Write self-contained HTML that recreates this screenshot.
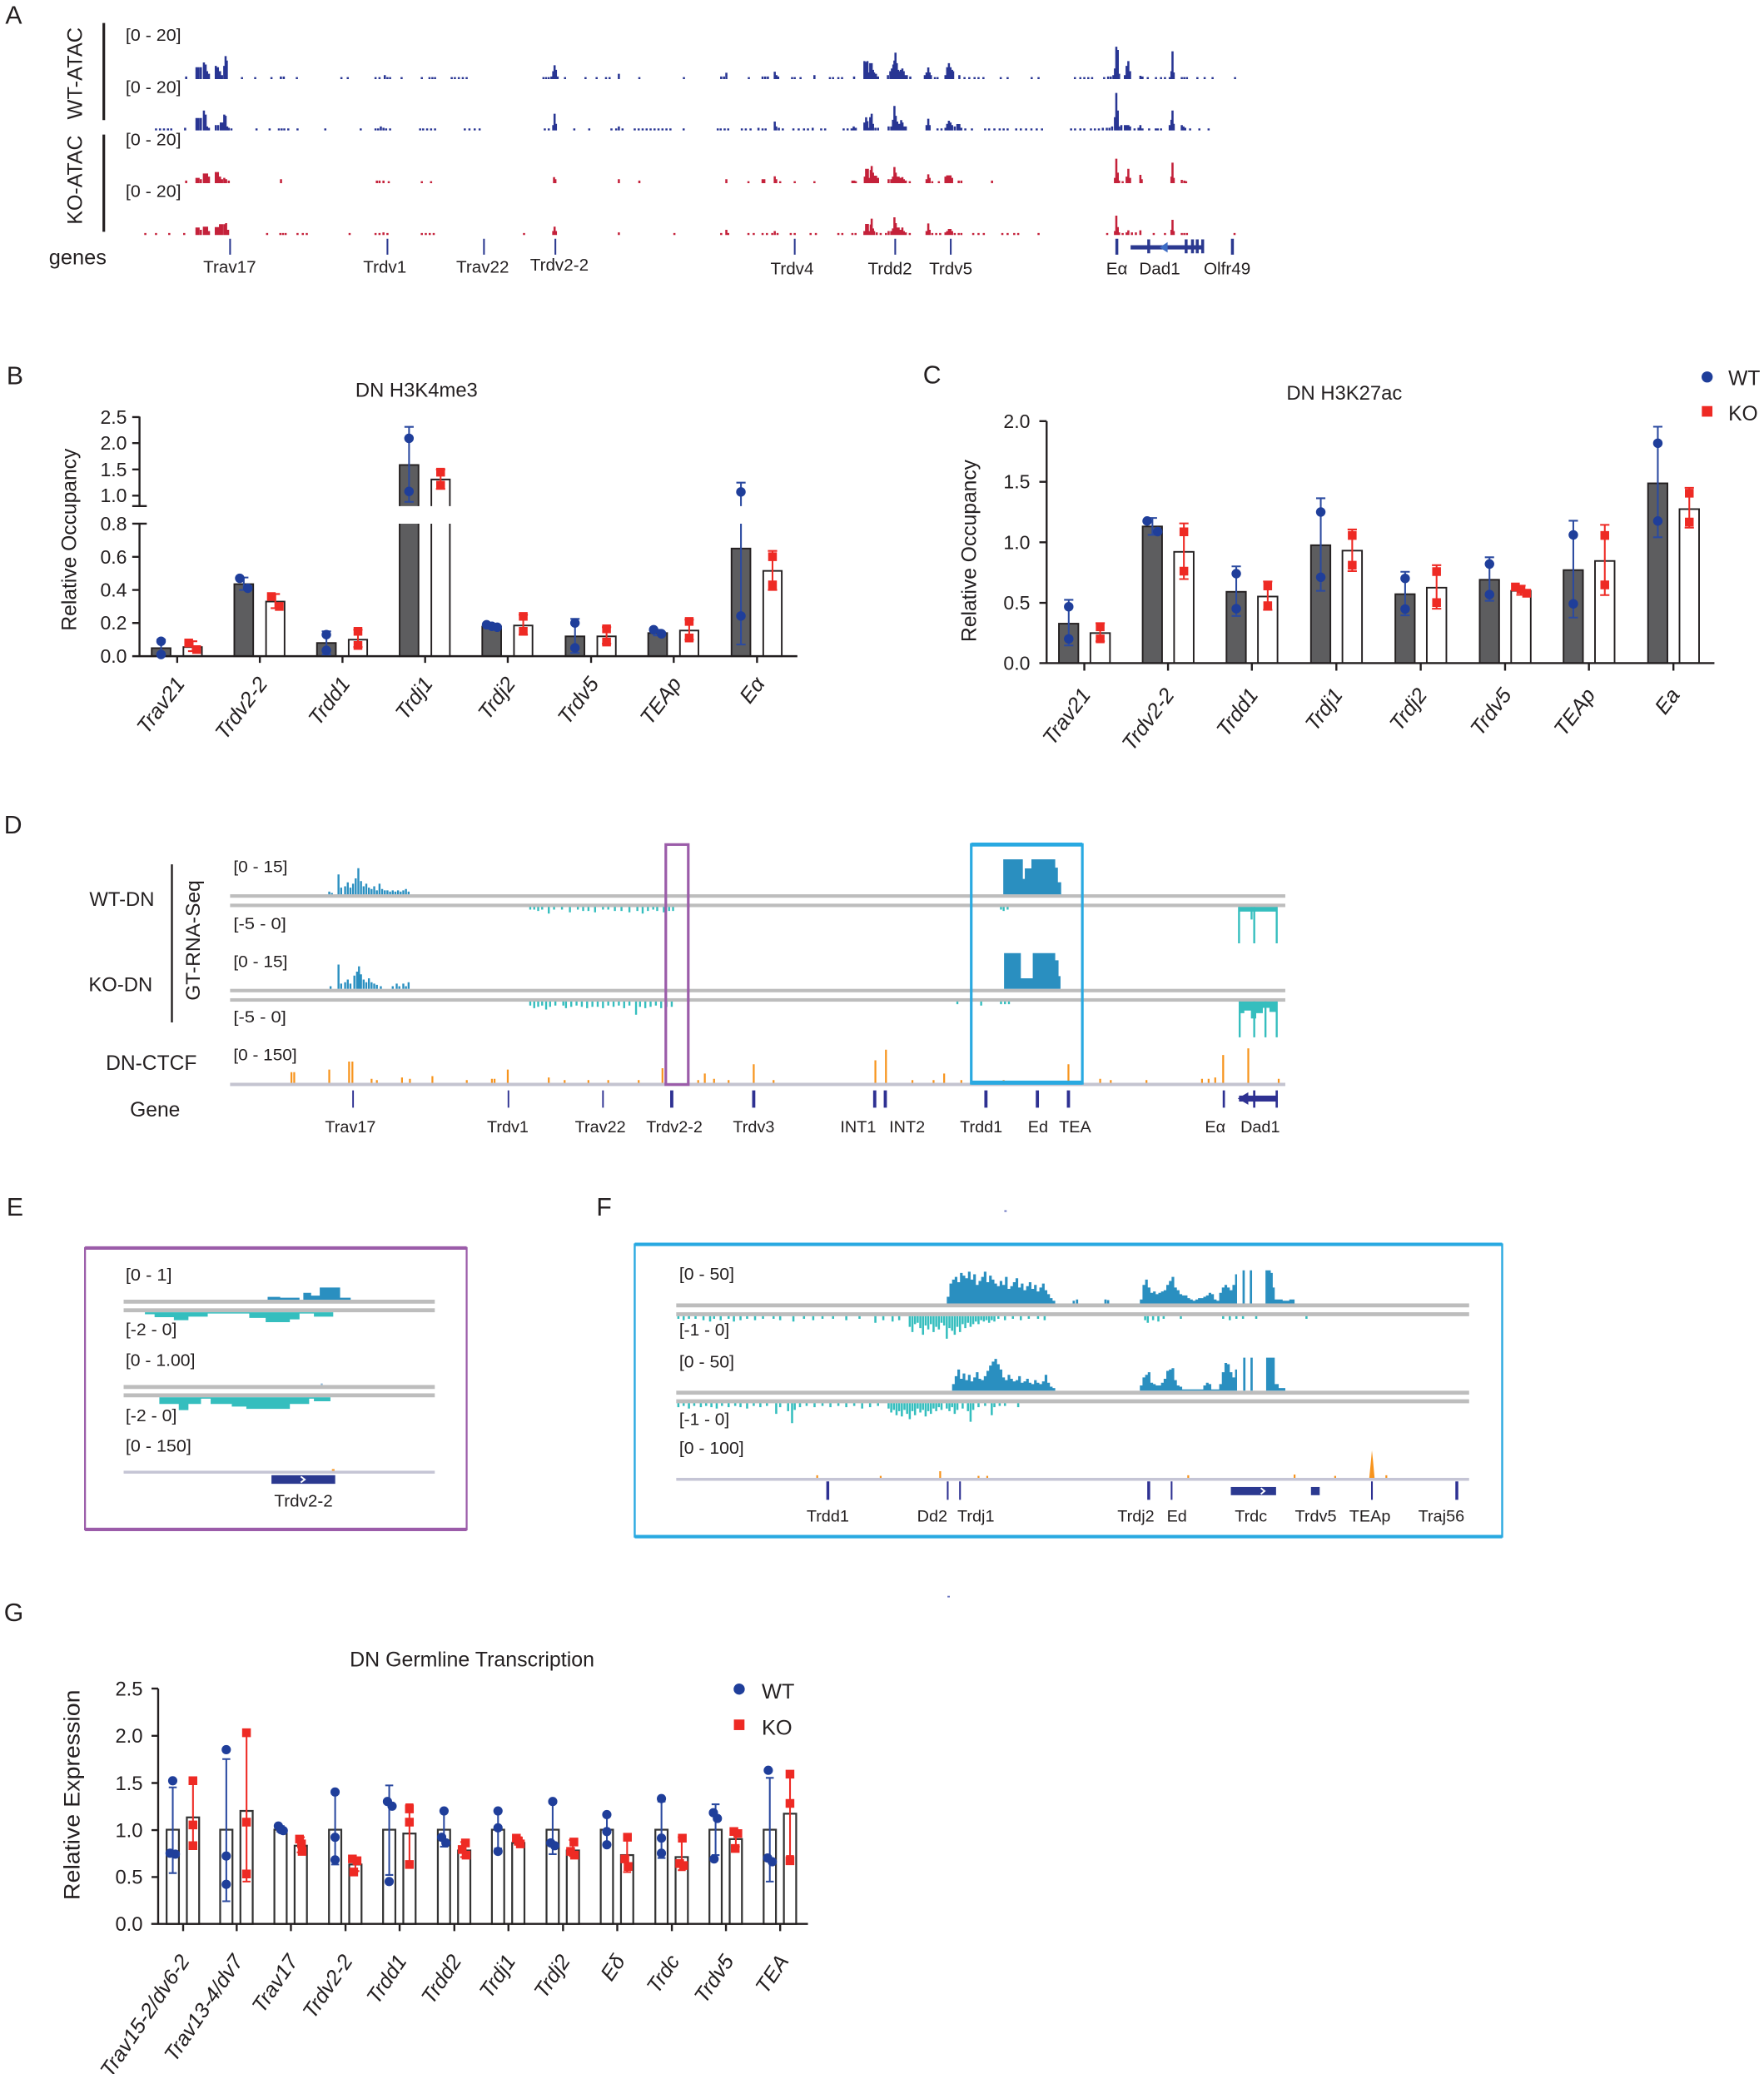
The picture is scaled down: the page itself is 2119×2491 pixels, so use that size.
<!DOCTYPE html>
<html><head><meta charset="utf-8">
<style>
html,body{margin:0;padding:0;background:#fff;}
svg{display:block;}
text{font-family:"Liberation Sans",Arial,sans-serif;fill:#231f20;}
.it{font-style:italic;}
</style></head><body>
<svg width="2119" height="2491" viewBox="0 0 1334 1568" preserveAspectRatio="none" xmlns="http://www.w3.org/2000/svg">
<rect x="0" y="0" width="1334" height="1568" fill="#fff"/>

<!-- ================= PANEL A ================= -->
<text x="4" y="18" font-size="19">A</text>
<text transform="translate(62,55.5) rotate(-90)" text-anchor="middle" font-size="16">WT-ATAC</text>
<text transform="translate(62,136) rotate(-90)" text-anchor="middle" font-size="15.7">KO-ATAC</text>
<path d="M78.5 17.4V90.8M78.5 101.7V175.2" stroke="#231f20" stroke-width="2"/>
<g font-size="13">
<text x="95" y="30.8" textLength="42" lengthAdjust="spacingAndGlyphs">[0 - 20]</text>
<text x="95" y="70.2" textLength="42" lengthAdjust="spacingAndGlyphs">[0 - 20]</text>
<text x="95" y="109.8" textLength="42" lengthAdjust="spacingAndGlyphs">[0 - 20]</text>
<text x="95" y="148.8" textLength="42" lengthAdjust="spacingAndGlyphs">[0 - 20]</text>
</g>
<path stroke="#283593" stroke-width="1.6" fill="none" d="M140.8 59.8v-2M148.6 59.8v-9M150.2 59.8v-9M151.9 59.8v-9M154.2 59.8v-12.6M155.5 59.8v-11M156.6 59.8v-6M158 59.8v-4M163.2 59.8v-10M164.8 59.8v-9M166.4 59.8v-6M167.9 59.8v-3M169.6 59.8v-10M170.6 59.8v-17.4M171.5 59.8v-14M183 59.8v-1.5M193 59.8v-1.5M205.3 59.8v-1.5M212.4 59.8v-2M214.6 59.8v-2M224.5 59.8v-1.5M258.2 59.8v-1.5M263 59.8v-1.5M284 59.8v-1.5M287 59.8v-1.5M291 59.8v-3M293 59.8v-1.5M295 59.8v-1.5M303.7 59.8v-1.5M319 59.8v-1.5M324.8 59.8v-1.5M327 59.8v-1.5M329 59.8v-1.5M341.6 59.8v-1.5M344 59.8v-1.5M347 59.8v-1.5M350 59.8v-1.5M352.9 59.8v-1.5M411 59.8v-1.5M413 59.8v-1.5M415 59.8v-1.5M417 59.8v-2M418.4 59.8v-6M419.4 59.8v-10.5M420.4 59.8v-7M421.7 59.8v-2M427.3 59.8v-1.5M442.8 59.8v-1.5M451.2 59.8v-1.5M458.3 59.8v-1.5M461 59.8v-1.5M468 59.8v-4M483.5 59.8v-1.5M517.2 59.8v-1.5M545.4 59.8v-2M547.5 59.8v-2M549.3 59.8v-4.8M566.3 59.8v-1.5M576.7 59.8v-2M578.7 59.8v-2M580.7 59.8v-2M585.9 59.8v-5.6M587.2 59.8v-3M588.5 59.8v-2M599 59.8v-1.5M601 59.8v-1.5M605.4 59.8v-1.5M615.9 59.8v-3M627.6 59.8v-1.5M630 59.8v-1.5M634 59.8v-1.5M636.8 59.8v-1.5M645.9 59.8v-2M653.7 59.8v-13.6M655 59.8v-13M656 59.8v-13.6M657.1 59.8v-5M658.1 59.8v-12M659.2 59.8v-12M660.2 59.8v-7M661 59.8v-5M662.4 59.8v-4M664 59.8v-2M671.5 59.8v-3M673.3 59.8v-6M674.5 59.8v-8M675.6 59.8v-11M676.4 59.8v-14M677.2 59.8v-20M678.2 59.8v-12M679.2 59.8v-7M680.3 59.8v-6M681.3 59.8v-7M682.4 59.8v-8M683.4 59.8v-6M684.5 59.8v-3M685.8 59.8v-3M688.4 59.8v-2M699.4 59.8v-3M700.7 59.8v-5M702 59.8v-8.8M703 59.8v-5M704 59.8v-3M707 59.8v-1.5M709 59.8v-1.5M715 59.8v-3M716.3 59.8v-9M717.6 59.8v-12M718.8 59.8v-9M720 59.8v-7M720.8 59.8v-6M725.5 59.8v-3M729.4 59.8v-1.5M733 59.8v-1.5M737 59.8v-1.5M740 59.8v-1.5M743.7 59.8v-1.5M756.8 59.8v-1.5M762 59.8v-1.5M780.2 59.8v-1.5M785.4 59.8v-1.5M812.9 59.8v-1.5M817 59.8v-1.5M820 59.8v-1.5M823 59.8v-1.5M825.9 59.8v-1.5M835 59.8v-1.5M838 59.8v-2M840 59.8v-2M842 59.8v-3M843.2 59.8v-8M844.2 59.8v-24.5M845.3 59.8v-22M846.3 59.8v-4M850.7 59.8v-3M852 59.8v-10M853.3 59.8v-13.6M854.6 59.8v-6M862.4 59.8v-2.5M864 59.8v-2M868 59.8v-1.5M874.2 59.8v-1.5M878 59.8v-1.5M881 59.8v-1.5M884.6 59.8v-1.5M885.9 59.8v-6M886.7 59.8v-21M887.6 59.8v-5M893.7 59.8v-1.5M895.6 59.8v-1.5M897.6 59.8v-1.5M905.5 59.8v-1.5M911 59.8v-1.5M917 59.8v-1.5M934 59.8v-1.5"/>
<path stroke="#283593" stroke-width="1.6" fill="none" d="M118 98.6v-1.5M121 98.6v-1.5M124 98.6v-1.5M127 98.6v-1.5M129.5 98.6v-1.5M140 98.6v-2M148.6 98.6v-9.4M150.2 98.6v-9.4M151.9 98.6v-9.4M154.2 98.6v-15M155.5 98.6v-12M156.6 98.6v-3M158 98.6v-2M163.2 98.6v-4M165 98.6v-4M167 98.6v-6M168.5 98.6v-6M169.6 98.6v-12M170.6 98.6v-11M171.8 98.6v-3M173 98.6v-2M175 98.6v-1.5M194 98.6v-1.5M203.9 98.6v-1.5M210.9 98.6v-1.5M213 98.6v-1.5M215 98.6v-1.5M218 98.6v-1.5M225 98.6v-1.5M246 98.6v-1.5M272.8 98.6v-1.5M284 98.6v-1.5M286 98.6v-1.5M288 98.6v-3M290 98.6v-2M292 98.6v-1.5M295 98.6v-1.5M317.7 98.6v-1.5M320 98.6v-1.5M323 98.6v-1.5M326 98.6v-1.5M329 98.6v-1.5M351.5 98.6v-1.5M355 98.6v-1.5M359 98.6v-1.5M362.7 98.6v-1.5M412 98.6v-1.5M415 98.6v-1.5M418.4 98.6v-4M419.4 98.6v-12.6M420.4 98.6v-5M434.3 98.6v-1.5M445.6 98.6v-1.5M462.4 98.6v-1.5M466 98.6v-1.5M468 98.6v-3M470.8 98.6v-1.5M480 98.6v-1.5M483 98.6v-1.5M486 98.6v-1.5M489 98.6v-1.5M492 98.6v-1.5M495 98.6v-1.5M498 98.6v-1.5M501 98.6v-1.5M504 98.6v-1.5M507 98.6v-1.5M517 98.6v-1.5M542.8 98.6v-1.5M545 98.6v-1.5M548 98.6v-1.5M550.7 98.6v-1.5M561 98.6v-1.5M564 98.6v-1.5M567.6 98.6v-1.5M573.6 98.6v-2M576.7 98.6v-1.5M579 98.6v-1.5M585.9 98.6v-6.7M587 98.6v-3M589 98.6v-2M592 98.6v-1.5M600 98.6v-1.5M604 98.6v-1.5M608 98.6v-1.5M611 98.6v-1.5M614.6 98.6v-2M621 98.6v-1.5M624 98.6v-1.5M638 98.6v-1.5M641 98.6v-1.5M644 98.6v-1.5M645.6 98.6v-3M647.2 98.6v-2M653.7 98.6v-6M655 98.6v-9.9M656 98.6v-7M657.1 98.6v-2M658.1 98.6v-10M659.2 98.6v-12.6M660.2 98.6v-5M662 98.6v-2M664 98.6v-2M672 98.6v-3M674 98.6v-3M675.3 98.6v-8M676.4 98.6v-18.5M677.4 98.6v-11M678.5 98.6v-6.7M679.6 98.6v-5M680.6 98.6v-5M681.5 98.6v-7.8M682.5 98.6v-6M683.5 98.6v-3M685 98.6v-3M700.7 98.6v-4M702 98.6v-8.8M703 98.6v-4M709 98.6v-1.5M712 98.6v-1.5M715 98.6v-2M716.3 98.6v-5M717.6 98.6v-7.3M718.8 98.6v-6M720 98.6v-4M722 98.6v-3M724 98.6v-4.8M725.5 98.6v-4.8M727 98.6v-2M730 98.6v-1.5M735 98.6v-1.5M745 98.6v-1.5M748 98.6v-1.5M752 98.6v-1.5M756 98.6v-1.5M759 98.6v-1.5M762 98.6v-1.5M768.5 98.6v-1.5M772 98.6v-1.5M776 98.6v-1.5M780 98.6v-1.5M784 98.6v-1.5M788 98.6v-1.5M810 98.6v-1.5M813 98.6v-1.5M817 98.6v-1.5M820 98.6v-1.5M825 98.6v-1.5M828 98.6v-1.5M831 98.6v-1.5M834 98.6v-2M837 98.6v-2M839 98.6v-2M841 98.6v-3M843.2 98.6v-10M844.2 98.6v-28.3M845.3 98.6v-15M846.3 98.6v-3M848 98.6v-4M850.7 98.6v-4M852 98.6v-4M853.3 98.6v-4M854.6 98.6v-3M858 98.6v-1.5M861 98.6v-2M862.4 98.6v-4M864 98.6v-1.5M869 98.6v-1.5M874 98.6v-1.5M875.5 98.6v-1.5M878 98.6v-1.5M884.6 98.6v-4M885.9 98.6v-8M886.7 98.6v-15M887.6 98.6v-5M893.7 98.6v-4M895 98.6v-3M896.3 98.6v-2M900 98.6v-1.5M907 98.6v-1.5M914 98.6v-1.5"/>
<path stroke="#c4213a" stroke-width="1.6" fill="none" d="M140.8 138.5v-2M148.6 138.5v-4M150.2 138.5v-4M151.9 138.5v-3M154.2 138.5v-7.3M155.5 138.5v-7.3M156.6 138.5v-7.3M158 138.5v-5M163.2 138.5v-8.4M164.8 138.5v-8.4M166.4 138.5v-5M167.9 138.5v-3M169.6 138.5v-4M171 138.5v-3M173 138.5v-2M212.5 138.5v-3M285 138.5v-2M287 138.5v-2M290 138.5v-2M294 138.5v-1.5M319 138.5v-1.5M326 138.5v-1.5M419 138.5v-4.6M420 138.5v-3M468 138.5v-3M483.5 138.5v-2M549.3 138.5v-3M566 138.5v-1.5M576.7 138.5v-3M578 138.5v-3M585.9 138.5v-5.2M587 138.5v-3M590 138.5v-1.5M601 138.5v-1.5M615.9 138.5v-1.5M644.6 138.5v-2M646 138.5v-2M647.2 138.5v-1.5M654 138.5v-5M655 138.5v-10.9M656.3 138.5v-10.9M657.3 138.5v-4M658.5 138.5v-10M659.2 138.5v-13M660.2 138.5v-8M661 138.5v-5.7M662.5 138.5v-5.7M664 138.5v-4M672 138.5v-3M674 138.5v-3M675.3 138.5v-5M676.4 138.5v-12.2M677.4 138.5v-8M678.5 138.5v-5M679.6 138.5v-5M681 138.5v-4M682.4 138.5v-4.6M683.5 138.5v-3M685 138.5v-2M688 138.5v-1.5M700.7 138.5v-3M702 138.5v-6.7M703 138.5v-4M705 138.5v-1.5M710 138.5v-1.5M715 138.5v-5M716.3 138.5v-5.9M717.6 138.5v-5.9M718.8 138.5v-5.9M720 138.5v-4M725 138.5v-2M727 138.5v-2M750.2 138.5v-2M843.2 138.5v-4M844.2 138.5v-18.5M845.3 138.5v-8M846.3 138.5v-2M849 138.5v-1.5M852 138.5v-5M853.3 138.5v-10.9M854.6 138.5v-4M862.4 138.5v-6.3M863.4 138.5v-3M885.9 138.5v-5M886.7 138.5v-15.5M887.6 138.5v-4M893.7 138.5v-2.5M895.6 138.5v-2M897 138.5v-1.5"/>
<path stroke="#c4213a" stroke-width="1.6" fill="none" d="M109.9 177.7v-1.5M118 177.7v-1.5M128 177.7v-1.5M139.3 177.7v-1.5M148.6 177.7v-5.7M150.2 177.7v-5.7M151.9 177.7v-4M154.2 177.7v-6.3M155.5 177.7v-6.3M156.6 177.7v-6.3M158 177.7v-3M163.2 177.7v-6M164.8 177.7v-6M166.4 177.7v-8.2M167.9 177.7v-8.2M169.6 177.7v-8.2M171 177.7v-9M172.5 177.7v-4M202 177.7v-1.5M212 177.7v-1.5M214 177.7v-1.5M216 177.7v-1.5M225 177.7v-1.5M229 177.7v-1.5M232 177.7v-1.5M264.4 177.7v-1.5M284 177.7v-1.5M287 177.7v-1.5M290 177.7v-2M293 177.7v-1.5M319 177.7v-1.5M322 177.7v-1.5M325 177.7v-1.5M328 177.7v-1.5M396.3 177.7v-1.5M418.4 177.7v-3M419.4 177.7v-6.3M420.4 177.7v-3M468 177.7v-2M510 177.7v-1.5M545.4 177.7v-1.5M549.3 177.7v-4M550.7 177.7v-1.5M566 177.7v-1.5M570 177.7v-1.5M576.7 177.7v-1.5M580 177.7v-1.5M584 177.7v-1.5M585.9 177.7v-3M588 177.7v-1.5M598 177.7v-1.5M601 177.7v-1.5M613 177.7v-1.5M617 177.7v-1.5M634 177.7v-1.5M637 177.7v-1.5M644.6 177.7v-1.5M647 177.7v-1.5M653.7 177.7v-3M655 177.7v-8.4M656.3 177.7v-8.4M657.3 177.7v-3M658.5 177.7v-8M659.2 177.7v-12.4M660.2 177.7v-5M661 177.7v-3M663 177.7v-2M666 177.7v-1.5M670 177.7v-1.5M672 177.7v-3M674 177.7v-3M675.3 177.7v-5M676.4 177.7v-13.4M677.4 177.7v-9M678.5 177.7v-5.7M679.6 177.7v-5.7M681 177.7v-4M682.4 177.7v-5.7M683.5 177.7v-3M685 177.7v-2M688 177.7v-1.5M700.7 177.7v-3M702 177.7v-8.8M703 177.7v-4M705 177.7v-1.5M708 177.7v-1.5M711 177.7v-1.5M715 177.7v-2M716.3 177.7v-3M717.6 177.7v-4.6M718.8 177.7v-4.6M720 177.7v-3M722 177.7v-1.5M725 177.7v-1.5M727 177.7v-1.5M736 177.7v-1.5M740 177.7v-1.5M744 177.7v-1.5M758 177.7v-1.5M762 177.7v-1.5M767 177.7v-1.5M770 177.7v-1.5M785.4 177.7v-1.5M837.3 177.7v-1.5M843.2 177.7v-3M844.2 177.7v-14.7M845.3 177.7v-6M846.3 177.7v-2M849 177.7v-1.5M852 177.7v-2M853.3 177.7v-3.6M856 177.7v-2M859 177.7v-2M862.4 177.7v-3.6M872.5 177.7v-1.5M881 177.7v-1.5M885.9 177.7v-4M886.7 177.7v-11.5M887.6 177.7v-3M893.7 177.7v-1.5M895.6 177.7v-1.5M897.6 177.7v-1.5M933.6 177.7v-1.5"/>
<!-- genes A -->
<path stroke="#2b3990" stroke-width="1.3" d="M174 180.5V192.5M293 180.5V192.5M366 180.5V192.5M420 180.5V192.5M601 180.5V192.5M677 180.5V192.5M719 180.5V192.5"/>
<path stroke="#2b3990" stroke-width="2.2" d="M844.6 180.5V192.5M868.7 181V191.5M897 181V191.5M901.8 181V191.5M905.4 181V191.5M909.5 181V191.5M932 180.5V192.5"/>
<rect x="855" y="185.4" width="55" height="3.2" fill="#2b3990"/>
<path d="M883 183L877 187L883 191Z" fill="#3d6cc4"/>
<text x="37" y="200" font-size="16">genes</text>
<g font-size="13" text-anchor="middle">
<text x="173.7" y="206">Trav17</text>
<text x="291" y="206">Trdv1</text>
<text x="365" y="206">Trav22</text>
<text x="423" y="204.5">Trdv2-2</text>
<text x="599" y="207.5">Trdv4</text>
<text x="673" y="207.5">Trdd2</text>
<text x="719" y="207.5">Trdv5</text>
<text x="844.6" y="207.5">Eα</text>
<text x="877" y="207.5">Dad1</text>
<text x="928" y="207.5">Olfr49</text>
</g>

<!-- ================= PANEL B ================= -->
<text x="5" y="290.5" font-size="19">B</text>
<text x="315" y="300" font-size="15" text-anchor="middle">DN H3K4me3</text>
<text transform="translate(57.5,408) rotate(-90)" text-anchor="middle" font-size="15.5">Relative Occupancy</text>
<g font-size="14.5" text-anchor="end">
<text x="96" y="320.3">2.5</text><text x="96" y="340">2.0</text><text x="96" y="359.9">1.5</text><text x="96" y="379.7">1.0</text>
<text x="96" y="400.9">0.8</text><text x="96" y="426">0.6</text><text x="96" y="451">0.4</text><text x="96" y="476">0.2</text><text x="96" y="501.1">0.0</text>
</g>
<g stroke="#231f20" stroke-width="1.2">
<rect x="114.7" y="490" width="14.3" height="6.1" fill="#5d5d5f"/>
<rect x="138.7" y="489.2" width="14" height="6.9" fill="#fff"/>
<rect x="177.2" y="441.6" width="14.3" height="54.5" fill="#5d5d5f"/>
<rect x="201.2" y="454.8" width="14" height="41.3" fill="#fff"/>
<rect x="239.7" y="486.1" width="14.3" height="10" fill="#5d5d5f"/>
<rect x="263.7" y="483.6" width="14" height="12.5" fill="#fff"/>
<path d="M302.2 382.6V351.5H316.5V382.6" fill="#5d5d5f"/>
<path d="M302.2 395.9V496.1H316.5V395.9" fill="#5d5d5f"/>
<path d="M326.2 382.6V362.5H340.2V382.6" fill="#fff"/>
<path d="M326.2 395.9V496.1H340.2V395.9" fill="#fff"/>
<rect x="364.7" y="473.7" width="14.3" height="22.4" fill="#5d5d5f"/>
<rect x="388.7" y="472.9" width="14" height="23.2" fill="#fff"/>
<rect x="427.7" y="481.1" width="14.3" height="15" fill="#5d5d5f"/>
<rect x="451.7" y="481.1" width="14" height="15" fill="#fff"/>
<rect x="490.2" y="478.6" width="14.3" height="17.5" fill="#5d5d5f"/>
<rect x="514.2" y="476.7" width="14" height="19.4" fill="#fff"/>
<rect x="553.2" y="414.7" width="14.3" height="81.4" fill="#5d5d5f"/>
<rect x="577.2" y="431.6" width="14" height="64.5" fill="#fff"/>
</g>
<path d="M105.5 315V382.6M100 315.3H105.5M100 335H105.5M100 354.9H105.5M100 374.7H105.5M100 382.6H111M105.5 395.9V496.1M100 395.9H111M100 421H105.5M100 446H105.5M100 471H105.5M100 496.1H603M134 496.1v5M196.5 496.1v5M259 496.1v5M321.5 496.1v5M384 496.1v5M447 496.1v5M509.5 496.1v5M572.5 496.1v5" stroke="#231f20" stroke-width="1.5" fill="none"/>
<path stroke="#2b4aa0" stroke-width="1.3" fill="none" d="M121.85 483.6V494.8M118.35 483.6h7M118.35 494.8h7M184.35 436.6V446M180.85 436.6h7M180.85 446h7M246.85 477.3V494.8M243.35 477.3h7M243.35 494.8h7M309.35 322.7V379.4M305.85 322.7h7M305.85 379.4h7M371.85 472.3V474.8M368.35 472.3h7M368.35 474.8h7M434.85 467.9V493.6M431.35 467.9h7M431.35 493.6h7M497.35 476.1V480.4M493.85 476.1h7M493.85 480.4h7M560.35 364.9V382.6M560.35 395.9V487.3M556.85 364.9h7M556.85 487.3h7"/>
<path stroke="#ee2a24" stroke-width="1.3" fill="none" d="M145.7 484.8V492.3M142.2 484.8h7M142.2 492.3h7M208.2 449.1V459.8M204.7 449.1h7M204.7 459.8h7M270.7 476.1V489.2M267.2 476.1h7M267.2 489.2h7M333.2 355V369.6M329.7 355h7M329.7 369.6h7M395.7 464.8V479.8M392.2 464.8h7M392.2 479.8h7M458.7 474.2V486.7M455.2 474.2h7M455.2 486.7h7M521.2 468.5V483.6M517.7 468.5h7M517.7 483.6h7M584.2 416.5V446M580.7 416.5h7M580.7 446h7"/>
<path stroke="#1f3e9a" stroke-width="7.2" stroke-linecap="round" fill="none" d="M121.8 484.8h0.01M121.8 494.8h0.01M181.3 437.2h0.01M187.4 444.7h0.01M246.8 479.8h0.01M246.8 491.7h0.01M309.3 331.4h0.01M309.3 371.5h0.01M368 472.3h0.01M372 473.5h0.01M376 474.2h0.01M434.8 471h0.01M434.8 489.8h0.01M494.3 476.1h0.01M500.3 479.2h0.01M560.3 371.9h0.01M560.3 465.7h0.01"/>
<path stroke="#ee2a24" stroke-width="6.6" fill="none" d="M139.4 486.1h6.6M145.4 491.1h6.6M201.9 451h6.6M207.9 458.5h6.6M267.4 477.3h6.6M267.4 488h6.6M329.9 357h6.6M329.9 366.8h6.6M392.4 466h6.6M392.4 477.3h6.6M455.4 475.4h6.6M455.4 485.4h6.6M517.9 469.8h6.6M517.9 482.3h6.6M580.9 420.9h6.6M580.9 442.2h6.6"/>
<g font-size="16" class="it" text-anchor="end">
<text transform="translate(140.5,517) rotate(-53)">Trav21</text>
<text transform="translate(203,517) rotate(-53)">Trdv2-2</text>
<text transform="translate(265.5,517) rotate(-53)">Trdd1</text>
<text transform="translate(328,517) rotate(-53)">Trdj1</text>
<text transform="translate(390.5,517) rotate(-53)">Trdj2</text>
<text transform="translate(453.5,517) rotate(-53)">Trdv5</text>
<text transform="translate(516,517) rotate(-53)">TEAp</text>
<text transform="translate(579,517) rotate(-53)">Eα</text>
</g>

<!-- ================= PANEL C ================= -->
<text x="698" y="290" font-size="19">C</text>
<text x="1016.6" y="302" font-size="15" text-anchor="middle">DN H3K27ac</text>
<path stroke="#1f3e9a" stroke-width="8.4" stroke-linecap="round" d="M1291 285h0.01"/>
<rect x="1287" y="307" width="8" height="8" fill="#ee2a24"/>
<text x="1307" y="291" font-size="15.5">WT</text>
<text x="1307" y="318" font-size="15.5">KO</text>
<text transform="translate(738,416.4) rotate(-90)" text-anchor="middle" font-size="15.5">Relative Occupancy</text>
<g font-size="14.5" text-anchor="end">
<text x="779" y="323.4">2.0</text><text x="779" y="369.3">1.5</text><text x="779" y="415">1.0</text><text x="779" y="460.8">0.5</text><text x="779" y="506.3">0.0</text>
</g>
<g stroke="#231f20" stroke-width="1.2">
<rect x="800.8" y="471.5" width="14.7" height="29.8" fill="#5d5d5f"/>
<rect x="824.6" y="478.6" width="14.8" height="22.7" fill="#fff"/>
<rect x="864.1" y="398" width="14.7" height="103.3" fill="#5d5d5f"/>
<rect x="887.9" y="417.2" width="14.8" height="84.1" fill="#fff"/>
<rect x="927.5" y="447.4" width="14.7" height="53.9" fill="#5d5d5f"/>
<rect x="951.3" y="451" width="14.8" height="50.3" fill="#fff"/>
<rect x="991.4" y="412.2" width="14.7" height="89.1" fill="#5d5d5f"/>
<rect x="1015.2" y="416.3" width="14.8" height="85" fill="#fff"/>
<rect x="1055.2" y="449.2" width="14.7" height="52.1" fill="#5d5d5f"/>
<rect x="1079" y="444.3" width="14.8" height="57" fill="#fff"/>
<rect x="1119" y="438.3" width="14.7" height="63" fill="#5d5d5f"/>
<rect x="1142.8" y="446.7" width="14.8" height="54.6" fill="#fff"/>
<rect x="1182.4" y="431" width="14.7" height="70.3" fill="#5d5d5f"/>
<rect x="1206.2" y="424.1" width="14.8" height="77.2" fill="#fff"/>
<rect x="1246.3" y="365.4" width="14.7" height="135.9" fill="#5d5d5f"/>
<rect x="1270.1" y="384.9" width="14.8" height="116.4" fill="#fff"/>
</g>
<path d="M791.5 318.4V501.3M786 318.4H791.5M786 364.3H791.5M786 410H791.5M786 455.8H791.5M786 501.3H1296.5M820 501.3v5.7M883.3 501.3v5.7M946.7 501.3v5.7M1010.6 501.3v5.7M1074.4 501.3v5.7M1138.2 501.3v5.7M1201.6 501.3v5.7M1265.5 501.3v5.7" stroke="#231f20" stroke-width="1.5" fill="none"/>
<path stroke="#2b4aa0" stroke-width="1.3" fill="none" d="M808.2 453.5V488M804.7 453.5h7M804.7 488h7M871.5 391.6V404.4M868 391.6h7M868 404.4h7M934.9 428.2V465.7M931.4 428.2h7M931.4 465.7h7M998.8 376.7V446.7M995.3 376.7h7M995.3 446.7h7M1062.6 432.3V465.2M1059.1 432.3h7M1059.1 465.2h7M1126.4 421.3V454.2M1122.9 421.3h7M1122.9 454.2h7M1189.8 393.7V466.9M1186.3 393.7h7M1186.3 466.9h7M1253.7 322.6V406.2M1250.2 322.6h7M1250.2 406.2h7"/>
<path stroke="#ee2a24" stroke-width="1.3" fill="none" d="M832 471.1V484.8M828.5 471.1h7M828.5 484.8h7M895.3 395.7V437.8M891.8 395.7h7M891.8 437.8h7M958.7 439.6V461.1M955.2 439.6h7M955.2 461.1h7M1022.6 400.3V431.8M1019.1 400.3h7M1019.1 431.8h7M1086.4 427.3V460.2M1082.9 427.3h7M1082.9 460.2h7M1150.2 442.8V449.7M1146.7 442.8h7M1146.7 449.7h7M1213.6 396.8V449.9M1210.1 396.8h7M1210.1 449.9h7M1277.5 368.8V398.9M1274 368.8h7M1274 398.9h7"/>
<path stroke="#1f3e9a" stroke-width="7.2" stroke-linecap="round" fill="none" d="M808.2 458.7h0.01M808.2 483h0.01M867.5 393.9h0.01M875.5 401.9h0.01M934.9 433.7h0.01M934.9 460.2h0.01M998.8 387.1h0.01M998.8 436.4h0.01M1062.6 437.3h0.01M1062.6 460.4h0.01M1126.4 426.4h0.01M1126.4 449.5h0.01M1189.8 404.4h0.01M1189.8 456.5h0.01M1253.7 335.1h0.01M1253.7 393.9h0.01"/>
<path stroke="#ee2a24" stroke-width="6.6" fill="none" d="M828.7 473.9h6.6M828.7 483h6.6M892 402.1h6.6M892 431.8h6.6M955.4 443h6.6M955.4 457.9h6.6M1019.3 404.8h6.6M1019.3 427.3h6.6M1083.1 432.1h6.6M1083.1 455.6h6.6M1142.7 443.8h6.6M1146.9 445.5h6.6M1151.2 448.5h6.6M1210.3 404.8h6.6M1210.3 442.2h6.6M1274.2 372.9h6.6M1274.2 394.7h6.6"/>
<g font-size="16" class="it" text-anchor="end">
<text transform="translate(825.5,525.5) rotate(-53)">Trav21</text>
<text transform="translate(888.8,525.5) rotate(-53)">Trdv2-2</text>
<text transform="translate(952.2,525.5) rotate(-53)">Trdd1</text>
<text transform="translate(1016.1,525.5) rotate(-53)">Trdj1</text>
<text transform="translate(1079.9,525.5) rotate(-53)">Trdj2</text>
<text transform="translate(1143.7,525.5) rotate(-53)">Trdv5</text>
<text transform="translate(1207.1,525.5) rotate(-53)">TEAp</text>
<text transform="translate(1271,525.5) rotate(-53)">Ea</text>
</g>

<!-- ================= PANEL D ================= -->
<text x="3" y="630" font-size="19">D</text>
<text x="67.6" y="685" font-size="15">WT-DN</text>
<text x="67" y="749.5" font-size="15">KO-DN</text>
<text transform="translate(151,711) rotate(-90)" text-anchor="middle" font-size="15" textLength="91" lengthAdjust="spacingAndGlyphs">GT-RNA-Seq</text>
<path d="M130 653.5V773" stroke="#231f20" stroke-width="1.5"/>
<text x="80" y="809" font-size="15.5">DN-CTCF</text>
<text x="98.3" y="844" font-size="15.5">Gene</text>
<g font-size="12.5">
<text x="176.5" y="659.5" textLength="41" lengthAdjust="spacingAndGlyphs">[0 - 15]</text>
<text x="176.5" y="702.5" textLength="40" lengthAdjust="spacingAndGlyphs">[-5 - 0]</text>
<text x="176.5" y="731" textLength="41" lengthAdjust="spacingAndGlyphs">[0 - 15]</text>
<text x="176.5" y="773" textLength="40" lengthAdjust="spacingAndGlyphs">[-5 - 0]</text>
<text x="176.5" y="801.5" textLength="48" lengthAdjust="spacingAndGlyphs">[0 - 150]</text>
</g>
<g fill="#bdbdbd">
<rect x="174" y="676.1" width="798" height="2.6"/>
<rect x="174" y="683.2" width="798" height="2.6"/>
<rect x="174" y="747.6" width="798" height="2.6"/>
<rect x="174" y="754.7" width="798" height="2.6"/>
</g>
<rect x="174" y="818.6" width="798" height="2.5" fill="#c4c4d0"/>
<path stroke="#2a8fc0" stroke-width="1.5" fill="none" d="M249 676.1v-2M251 676.1v-1M256 676.1v-15M258 676.1v-5M261 676.1v-6M263 676.1v-9M265 676.1v-5M267 676.1v-8M269 676.1v-12M271 676.1v-19.7M273 676.1v-10M275 676.1v-6M277 676.1v-8M279 676.1v-5M281 676.1v-4M283 676.1v-6M285 676.1v-3M287 676.1v-8M289 676.1v-4M291 676.1v-3M293 676.1v-3M295 676.1v-2M297 676.1v-3M299 676.1v-2M301 676.1v-3M303 676.1v-2M305 676.1v-3M307 676.1v-4M309 676.1v-2"/>
<path fill="#2a8fc0" d="M758.7 676.1V649.7H773.5V664.5H775V656.5H780V649.7H798V656H800V667H802.5V676.1Z"/>
<path stroke="#35bebe" stroke-width="1.5" fill="none" d="M401 685.7v2M404 685.7v2M407 685.7v3M410 685.7v2M415 685.7v5M419 685.7v2M425 685.7v2M431 685.7v4M437 685.7v2M441 685.7v3M445 685.7v3M450 685.7v4M456 685.7v2M460 685.7v2M465 685.7v3M470 685.7v3M476 685.7v4M482 685.7v3M486 685.7v5M490 685.7v3M494 685.7v2M497 685.7v3M502 685.7v4M506 685.7v3M509 685.7v3M757 685.7v2M759 685.7v3M762 685.7v2M937 685.7v27.5M946.5 685.7v9.5M948.5 685.7v27.5M965.5 685.7v27.5"/>
<path fill="#35bebe" d="M937 685.7h29v3.5h-29z"/>
<path stroke="#2a8fc0" stroke-width="1.5" fill="none" d="M250 747.6v-2M256 747.6v-18.4M258 747.6v-4M261 747.6v-5M263 747.6v-7M265 747.6v-4M268 747.6v-10M270 747.6v-13M271.5 747.6v-17M273 747.6v-11M275 747.6v-7M277 747.6v-5M279 747.6v-8M281 747.6v-5M283 747.6v-4M285 747.6v-3M288 747.6v-2M297 747.6v-2M300 747.6v-4M302 747.6v-2M305 747.6v-4M307 747.6v-2M309 747.6v-5"/>
<path fill="#2a8fc0" d="M759.3 747.6V720.6H772V739.6H781V720.6H798V726H800.5V738H802V747.6Z"/>
<path stroke="#35bebe" stroke-width="1.5" fill="none" d="M401 757.2v3M404 757.2v5M407 757.2v4M410 757.2v3M413 757.2v6M416 757.2v4M420 757.2v3M426 757.2v3M428 757.2v5M432 757.2v4M436 757.2v3M440 757.2v4M444 757.2v5M448 757.2v4M452 757.2v4M456 757.2v5M460 757.2v3M464 757.2v4M468 757.2v3M472 757.2v5M476 757.2v3M481 757.2v10M484 757.2v4M488 757.2v5M492 757.2v4M496 757.2v3M500 757.2v5M504 757.2v4M508 757.2v4M724 757.2v2M742 757.2v3M757 757.2v2M760 757.2v2M763 757.2v2M937.5 757.2v27M948.5 757.2v27M957 757.2v27M965.5 757.2v27"/>
<path fill="#35bebe" d="M937 757.2V766H941V764H946V770H950V766H955V762H960V765H966V757.2Z"/>
<path stroke="#f7941d" stroke-width="1.4" fill="none" d="M220.4 818.6v-8M222.5 818.6v-8M249 818.6v-10M264 818.6v-16M266.5 818.6v-16M281 818.6v-3M285 818.6v-2M304 818.6v-4M310 818.6v-3M327 818.6v-5M353 818.6v-2M372 818.6v-3M374 818.6v-3M384 818.6v-10M415 818.6v-4M427 818.6v-2M445 818.6v-2M460 818.6v-2M483 818.6v-2M501 818.6v-11M528 818.6v-2M533 818.6v-7M540 818.6v-3M551 818.6v-2M570 818.6v-14M585 818.6v-2M662 818.6v-17M670 818.6v-25M690 818.6v-2M706 818.6v-2M714 818.6v-7M727 818.6v-2M759 818.6v-2M808 818.6v-14M832 818.6v-3M840 818.6v-2M867 818.6v-2M909 818.6v-3M914 818.6v-3M919 818.6v-4M925 818.6v-21M944 818.6v-26M967 818.6v-3"/>
<rect x="503.5" y="638.5" width="17" height="181.5" fill="none" stroke="#9b5ca9" stroke-width="2"/>
<rect x="734.5" y="638.5" width="84" height="180.5" fill="none" stroke="#29a9e1" stroke-width="2"/>
<path d="M734.5 638.5H818.5M734.5 818.5H818.5" stroke="#29a9e1" stroke-width="3"/>
<path stroke="#2e3192" stroke-width="1.2" d="M267 824.4V837.4M384.5 824.4V837.4M456 824.4V837.4"/>
<path stroke="#2e3192" stroke-width="2.4" d="M508 824.4V837.4M570 824.4V837.4M661.5 824.4V837.4M669.5 824.4V837.4M745.6 824.4V837.4M784.5 824.4V837.4M808 824.4V837.4"/>
<path stroke="#2e3192" stroke-width="1.7" d="M925.5 824.4V837.4M948.5 824.4V837.4M965.5 824.4V837.4"/>
<rect x="937" y="828.3" width="28" height="4.5" fill="#2e3192"/>
<path d="M936 830.5L944 825.8V835.2Z" fill="#2e3192"/>
<g font-size="12.5" text-anchor="middle">
<text x="265" y="856">Trav17</text>
<text x="384" y="856">Trdv1</text>
<text x="454" y="856">Trav22</text>
<text x="510" y="856">Trdv2-2</text>
<text x="570" y="856">Trdv3</text>
<text x="649" y="856">INT1</text>
<text x="686" y="856">INT2</text>
<text x="742" y="856">Trdd1</text>
<text x="785" y="856">Ed</text>
<text x="813" y="856">TEA</text>
<text x="919" y="856">Eα</text>
<text x="953" y="856">Dad1</text>
</g>

<!-- ================= PANEL E ================= -->
<text x="5" y="919" font-size="19">E</text>
<rect x="64.3" y="943.5" width="288.6" height="212.8" fill="none" stroke="#9b5ca9" stroke-width="1.4"/>
<path d="M64.3 943.5H352.9M64.3 1156.3H352.9" stroke="#9b5ca9" stroke-width="2.6"/>
<g font-size="13">
<text x="95" y="968" textLength="35" lengthAdjust="spacingAndGlyphs">[0 - 1]</text>
<text x="95" y="1009.5" textLength="38.7" lengthAdjust="spacingAndGlyphs">[-2 - 0]</text>
<text x="95" y="1032.5" textLength="52.6" lengthAdjust="spacingAndGlyphs">[0 - 1.00]</text>
<text x="95" y="1074.5" textLength="38.7" lengthAdjust="spacingAndGlyphs">[-2 - 0]</text>
<text x="95" y="1097.5" textLength="49.7" lengthAdjust="spacingAndGlyphs">[0 - 150]</text>
<text x="229.5" y="1139" text-anchor="middle">Trdv2-2</text>
</g>
<g fill="#bdbdbd">
<rect x="93.5" y="982.6" width="235.3" height="3"/>
<rect x="93.5" y="989.1" width="235.3" height="3"/>
<rect x="93.5" y="1047.1" width="235.3" height="3"/>
<rect x="93.5" y="1053.4" width="235.3" height="3"/>
</g>
<rect x="93.5" y="1111.9" width="235.3" height="2.2" fill="#c5c5d5"/>
<path fill="#2a8fc0" d="M202.4 982.6V980.5H211.9V981.1H226.5V982.6H229.4V977.4H235.3V979.5H241.8V973.4H257.2V981.1H265.2V982.6Z"/>
<path fill="#35bebe" d="M109.6 992.1V993.6H116.9V995.8H131.5V998.1H142.5V995.4H157.1V993.1H188.5V996.4H200.9V999.6H219.2V997.5H226.5V993.1H237.4V995.4H252V992.1Z"/>
<path fill="#35bebe" d="M120.5 1056.4V1061.4H135.2V1066.1H142.5V1061.4H152V1057.4H159.3V1061.4H175.3V1063.4H186.3V1065.1H219.2V1061.4H233.8V1057.4H237.4V1059.4H249.9V1056.4Z"/>
<path d="M243.3 1047.1v-1.2" stroke="#8fb7d8" stroke-width="1.5"/>
<path d="M252 1111.9v-1.2" stroke="#f7941d" stroke-width="2"/>
<rect x="205.3" y="1115.3" width="48.2" height="6.5" fill="#2b3990"/>
<path d="M227.5 1116.3L230.5 1118.55L227.5 1120.8" stroke="#fff" stroke-width="1.2" fill="none"/>

<!-- ================= PANEL F ================= -->
<text x="451" y="919" font-size="19">F</text>
<rect x="759.5" y="915" width="1.8" height="1.2" fill="#6a74c0"/>
<rect x="716.5" y="1206.5" width="1.8" height="1.2" fill="#6a74c0"/>
<rect x="480" y="940.8" width="656" height="220.9" fill="none" stroke="#29a9e1" stroke-width="1.5"/>
<path d="M480 940.8H1136M480 1161.7H1136" stroke="#29a9e1" stroke-width="2.6"/>
<g font-size="13">
<text x="513.6" y="967.5" textLength="41.7" lengthAdjust="spacingAndGlyphs">[0 - 50]</text>
<text x="513.6" y="1009.7" textLength="38" lengthAdjust="spacingAndGlyphs">[-1 - 0]</text>
<text x="513.6" y="1033.8" textLength="41.7" lengthAdjust="spacingAndGlyphs">[0 - 50]</text>
<text x="513.6" y="1077.4" textLength="38" lengthAdjust="spacingAndGlyphs">[-1 - 0]</text>
<text x="513.6" y="1099" textLength="49" lengthAdjust="spacingAndGlyphs">[0 - 100]</text>
</g>
<g fill="#bdbdbd">
<rect x="511.4" y="985.4" width="599.6" height="3"/>
<rect x="511.4" y="992.1" width="599.6" height="3"/>
<rect x="511.4" y="1051.4" width="599.6" height="3"/>
<rect x="511.4" y="1057.9" width="599.6" height="3"/>
</g>
<rect x="511.4" y="1117.3" width="599.6" height="2.2" fill="#c5c5d5"/>
<g fill="#2a8fc0">
<path d="M716 985.4V980.4H718V970.4H720V967.4H722V965.4H724V969.4H726V962.4H728V964.4H730V966.4H732V961.4H734V967.4H736V963.4H738V971.4H740V968.4H742V965.4H744V961.4H746V969.4H748V964.4H750V967.4H752V970.4H754V972.4H756V968.4H758V971.4H760V965.4H762V974.4H764V972.4H766V969.4H768V966.4H770V973.4H772V970.4H774V975.4H776V972.4H778V969.4H780V974.4H782V971.4H784V976.4H786V973.4H788V970.4H790V975.4H792V978.4H794V981.4H796V983.4H798V985.4Z"/>
<path d="M862 985.4V982.4H864V971.4H866V967.4H868V973.4H870V977.4H872V976.4H874V978.4H876V977.4H878V976.4H880V975.4H882V971.4H884V968.4H886V965.4H888V973.4H890V975.4H892V978.4H894V979.4H898V981.4H900V982.4H902V983.4H904V982.4H906V981.4H910V980.4H912V979.4H914V977.4H916V978.4H918V982.4H920V983.4H922V977.4H924V973.4H926V971.4H928V973.4H930V975.4H932V971.4H934V963.4H935.5V985.4Z"/>
<path d="M957 985.4V960.4H961V962.4H962.5V973.4H964V982.4H970V983.4H975V982.4H979V985.4Z"/>
<path d="M720 1051.4V1046.4H722V1040.4H724V1035.4H726V1042.4H728V1038.4H730V1043.4H732V1039.4H734V1044.4H736V1041.4H738V1037.4H740V1042.4H742V1043.4H744V1040.4H746V1036.4H748V1032.4H750V1029.4H752V1027.4H754V1031.4H756V1035.4H758V1041.4H760V1043.4H762V1039.4H764V1042.4H766V1044.4H768V1043.4H770V1040.4H772V1045.4H774V1044.4H776V1042.4H778V1045.4H780V1046.4H782V1043.4H784V1045.4H786V1046.4H788V1044.4H790V1039.4H792V1045.4H794V1048.4H796V1049.4H798V1051.4Z"/>
<path d="M862 1051.4V1047.4H864V1041.4H866V1039.4H868V1037.4H870V1045.4H872V1046.4H874V1047.4H878V1045.4H880V1042.4H882V1036.4H884V1035.4H886V1034.4H888V1043.4H890V1047.4H892V1048.4H894V1050.4H910V1047.4H912V1045.4H914V1046.4H916V1050.4H922V1046.4H924V1037.4H926V1030.4H928V1031.4H930V1037.4H932V1041.4H934V1035.4H935.5V1051.4Z"/>
<path d="M957.5 1051.4V1026.4H964V1046.4H967V1049.4H972V1051.4Z"/>
</g>
<path stroke="#2a8fc0" stroke-width="1.7" fill="none" d="M940.5 985.4v-25M946 985.4v-25M814.5 985.4v-3M812 985.4v-2M836 985.4v-3M838 985.4v-2.5M941 1051.4v-25M946.5 1051.4v-25"/>
<path stroke="#35bebe" stroke-width="1.6" fill="none" d="M513 995.1v2M517 995.1v3M521 995.1v2M526 995.1v2M532 995.1v3M537 995.1v4M540 995.1v2M545 995.1v3M551 995.1v2M555 995.1v4M560 995.1v3M565 995.1v2M571 995.1v3M577 995.1v2M585 995.1v2M590 995.1v3M600 995.1v4M608 995.1v2M615 995.1v3M622 995.1v2M630 995.1v2M640 995.1v3M650 995.1v2M662 995.1v5M668 995.1v3M675 995.1v4M680 995.1v3M688 995.1v8M690 995.1v12M692 995.1v6M694 995.1v5M696 995.1v9M698 995.1v14M700 995.1v7M702 995.1v10M704 995.1v6M706 995.1v12M708 995.1v8M710 995.1v10M712 995.1v5M714 995.1v7M716 995.1v17M718 995.1v9M720 995.1v11M722 995.1v14M724 995.1v8M726 995.1v12M728 995.1v6M730 995.1v9M732 995.1v5M734 995.1v8M736 995.1v6M738 995.1v4M740 995.1v6M742 995.1v3M744 995.1v4M746 995.1v3M748 995.1v5M750 995.1v3M752 995.1v4M755 995.1v2M760 995.1v3M766 995.1v2M772 995.1v3M778 995.1v2M785 995.1v2M790 995.1v3M866 995.1v3M868 995.1v5M872 995.1v3M876 995.1v4M880 995.1v2M893 995.1v2M925 995.1v2M930 995.1v3M935 995.1v2M940 995.1v2M950 995.1v2M988 995.1v2"/>
<path stroke="#35bebe" stroke-width="1.6" fill="none" d="M513 1060.9v3M517 1060.9v2M521 1060.9v4M525 1060.9v2M530 1060.9v3M534 1060.9v2M538 1060.9v3M542 1060.9v4M546 1060.9v2M551 1060.9v3M556 1060.9v2M560 1060.9v3M565 1060.9v4M570 1060.9v2M575 1060.9v3M580 1060.9v2M587 1060.9v8M590 1060.9v3M596 1060.9v6M599 1060.9v15M601 1060.9v5M605 1060.9v3M610 1060.9v2M616 1060.9v3M622 1060.9v2M628 1060.9v3M634 1060.9v2M640 1060.9v3M646 1060.9v2M652 1060.9v4M658 1060.9v3M664 1060.9v2M672 1060.9v4M674 1060.9v7M676 1060.9v5M678 1060.9v9M680 1060.9v6M682 1060.9v10M684 1060.9v5M686 1060.9v8M688 1060.9v12M690 1060.9v6M692 1060.9v9M694 1060.9v4M696 1060.9v7M698 1060.9v5M700 1060.9v10M702 1060.9v6M704 1060.9v8M706 1060.9v4M708 1060.9v6M710 1060.9v3M712 1060.9v5M716 1060.9v4M718 1060.9v6M720 1060.9v3M722 1060.9v8M724 1060.9v5M728 1060.9v4M732 1060.9v6M734 1060.9v14M736 1060.9v5M740 1060.9v3M745 1060.9v2M750 1060.9v9M752 1060.9v3M756 1060.9v2M760 1060.9v2M770 1060.9v3"/>
<path stroke="#f7941d" stroke-width="1.4" fill="none" d="M618 1117.3v-2M666 1117.3v-1.5M711 1117.3v-5M740 1117.3v-1.5M746.6 1117.3v-1.5M898.6 1117.3v-2M979 1117.3v-2.5M1009.7 1117.3v-1.5M1048.4 1117.3v-2"/>
<path fill="#f7941d" d="M1035.5 1117.3L1036.8 1104L1037.5 1096.5L1038.3 1104L1039.5 1117.3Z"/>
<path stroke="#2e3192" stroke-width="2.2" d="M626 1120V1133.9M868.7 1120V1133.9M1101.7 1120V1133.9"/>
<path stroke="#2e3192" stroke-width="1.3" d="M716.7 1120V1133.9M726 1120V1133.9M886 1120V1133.9M1037.5 1120V1133.9"/>
<rect x="930.8" y="1124.2" width="34.2" height="6.2" fill="#2b3990"/>
<path d="M953.5 1125L956.3 1127.3L953.5 1129.6" stroke="#fff" stroke-width="1.2" fill="none"/>
<rect x="991.4" y="1124.2" width="6.6" height="6.2" fill="#2b3990"/>
<g font-size="12.5" text-anchor="middle">
<text x="626" y="1150.5">Trdd1</text>
<text x="705" y="1150.5">Dd2</text>
<text x="738" y="1150.5">Trdj1</text>
<text x="859" y="1150.5">Trdj2</text>
<text x="890" y="1150.5">Ed</text>
<text x="946" y="1150.5">Trdc</text>
<text x="995" y="1150.5">Trdv5</text>
<text x="1036" y="1150.5">TEAp</text>
<text x="1090" y="1150.5">Traj56</text>
</g>

<!-- ================= PANEL G ================= -->
<text x="3" y="1225.5" font-size="19">G</text>
<text x="357" y="1260" font-size="15.5" text-anchor="middle" textLength="185" lengthAdjust="spacingAndGlyphs">DN Germline Transcription</text>
<path stroke="#1f3e9a" stroke-width="8.4" stroke-linecap="round" d="M559 1277h0.01"/>
<rect x="555" y="1300" width="8" height="8" fill="#ee2a24"/>
<text x="576" y="1284" font-size="16">WT</text>
<text x="576" y="1311.5" font-size="16">KO</text>
<text transform="translate(60,1357) rotate(-90)" text-anchor="middle" font-size="17" textLength="159" lengthAdjust="spacingAndGlyphs">Relative Expression</text>
<g font-size="15" text-anchor="end">
<text x="108" y="1281.8">2.5</text><text x="108" y="1317.5">2.0</text><text x="108" y="1353.2">1.5</text><text x="108" y="1388.8">1.0</text><text x="108" y="1424.3">0.5</text><text x="108" y="1459.7">0.0</text>
</g>
<g stroke="#333" stroke-width="1.4" fill="#fff">
<rect x="126" y="1383.3" width="9.3" height="71.2"/>
<rect x="166.5" y="1383.3" width="9.3" height="71.2"/>
<rect x="207.5" y="1383.3" width="9.3" height="71.2"/>
<rect x="248.8" y="1383.3" width="9.3" height="71.2"/>
<rect x="289.7" y="1383.3" width="9.3" height="71.2"/>
<rect x="331.1" y="1383.3" width="9.3" height="71.2"/>
<rect x="372" y="1383.3" width="9.3" height="71.2"/>
<rect x="413.3" y="1383.3" width="9.3" height="71.2"/>
<rect x="454.3" y="1383.3" width="9.3" height="71.2"/>
<rect x="495.6" y="1383.3" width="9.3" height="71.2"/>
<rect x="536.5" y="1383.3" width="9.3" height="71.2"/>
<rect x="577.5" y="1383.3" width="9.3" height="71.2"/>
<rect x="141.3" y="1374" width="9.3" height="80.5"/>
<rect x="181.8" y="1369.1" width="9.3" height="85.4"/>
<rect x="222.8" y="1395.4" width="9.3" height="59.1"/>
<rect x="264.1" y="1409.6" width="9.3" height="44.9"/>
<rect x="305" y="1386.2" width="9.3" height="68.3"/>
<rect x="346.4" y="1399" width="9.3" height="55.5"/>
<rect x="387.3" y="1393.3" width="9.3" height="61.2"/>
<rect x="428.6" y="1399" width="9.3" height="55.5"/>
<rect x="469.6" y="1402.5" width="9.3" height="52"/>
<rect x="510.9" y="1404" width="9.3" height="50.5"/>
<rect x="551.8" y="1390.4" width="9.3" height="64.1"/>
<rect x="592.8" y="1371.2" width="9.3" height="83.3"/>
</g>
<path d="M119.6 1276.6V1454.5M114.6 1276.6h5M114.6 1312.3h5M114.6 1348h5M114.6 1383.6h5M114.6 1419.1h5M114.4 1454.5H611M138.5 1454.5v5.5M179 1454.5v5.5M220 1454.5v5.5M261.3 1454.5v5.5M302.2 1454.5v5.5M343.6 1454.5v5.5M384.5 1454.5v5.5M425.8 1454.5v5.5M466.8 1454.5v5.5M508.1 1454.5v5.5M549 1454.5v5.5M590 1454.5v5.5" stroke="#231f20" stroke-width="1.5" fill="none"/>
<path stroke="#2b4aa0" stroke-width="1.3" fill="none" d="M130.65 1351.3V1416.1M127.65 1351.3h6M127.65 1416.1h6M171.15 1329.9V1437.4M168.15 1329.9h6M168.15 1437.4h6M212.15 1380.5V1384.7M209.15 1380.5h6M209.15 1384.7h6M253.45 1356.2V1409.6M250.45 1356.2h6M250.45 1409.6h6M294.35 1349.8V1417.5M291.35 1349.8h6M291.35 1417.5h6M335.75 1369.1V1396.1M332.75 1369.1h6M332.75 1396.1h6M376.65 1369.1V1397.5M373.65 1369.1h6M373.65 1397.5h6M417.95 1363.4V1401.8M414.95 1363.4h6M414.95 1401.8h6M458.95 1372.6V1393.3M455.95 1372.6h6M455.95 1393.3h6M500.25 1362V1404.7M497.25 1362h6M497.25 1404.7h6M541.15 1364.1V1402.5M538.15 1364.1h6M538.15 1402.5h6M582.15 1344.1V1422.5M579.15 1344.1h6M579.15 1422.5h6"/>
<path stroke="#ee2a24" stroke-width="1.3" fill="none" d="M145.95 1346.3V1395.4M142.95 1346.3h6M142.95 1395.4h6M186.45 1312.1V1422.5M183.45 1312.1h6M183.45 1422.5h6M227.45 1389V1400.4M224.45 1389h6M224.45 1400.4h6M268.75 1404.7V1414.6M265.75 1404.7h6M265.75 1414.6h6M309.65 1364.1V1408.2M306.65 1364.1h6M306.65 1408.2h6M351.05 1392.6V1404M348.05 1392.6h6M348.05 1404h6M391.95 1389V1394.7M388.95 1389h6M388.95 1394.7h6M433.25 1391.1V1403.2M430.25 1391.1h6M430.25 1403.2h6M474.25 1389V1415.3M471.25 1389h6M471.25 1415.3h6M515.55 1389V1413.9M512.55 1389h6M512.55 1413.9h6M556.45 1384.7V1396.1M553.45 1384.7h6M553.45 1396.1h6M597.45 1339.2V1403.2M594.45 1339.2h6M594.45 1403.2h6"/>
<path stroke="#1f3e9a" stroke-width="7" stroke-linecap="round" fill="none" d="M130.6 1346.3h0.01M128.6 1401.1h0.01M132.6 1401.8h0.01M171.1 1322.8h0.01M171.1 1403.2h0.01M171.1 1424.6h0.01M210.5 1380.5h0.01M212.5 1383.3h0.01M214.2 1384h0.01M253.4 1354.8h0.01M253.4 1389h0.01M253.4 1406.1h0.01M293 1362h0.01M296.5 1365.5h0.01M294.3 1422.5h0.01M335.8 1369.1h0.01M334 1389h0.01M337.2 1393.3h0.01M376.6 1369.1h0.01M376.6 1381.9h0.01M376.6 1399.7h0.01M418 1362h0.01M416.5 1393.3h0.01M419.5 1395.4h0.01M458.9 1371.9h0.01M458.9 1384.7h0.01M458.9 1394.7h0.01M500.2 1359.8h0.01M500.2 1389.7h0.01M500.2 1401.1h0.01M539.5 1370.5h0.01M542.5 1374.8h0.01M540 1405.4h0.01M581 1338.4h0.01M580.5 1404.7h0.01M584 1407.5h0.01"/>
<path stroke="#ee2a24" stroke-width="6.6" fill="none" d="M142.6 1346.3h6.6M142.6 1379.7h6.6M142.6 1395.4h6.6M183.1 1310h6.6M183.1 1377.6h6.6M183.1 1416.8h6.6M223.2 1390.4h6.6M224.7 1394h6.6M225.2 1399.7h6.6M263.2 1405.4h6.6M266.7 1406.8h6.6M264.2 1415.3h6.6M306.3 1367.6h6.6M306.3 1377.6h6.6M306.3 1409.6h6.6M348.7 1393.3h6.6M346.2 1398.3h6.6M349.2 1402.5h6.6M387.2 1389.7h6.6M388.7 1391.9h6.6M390.2 1394h6.6M430.7 1392.6h6.6M428.2 1399.7h6.6M431.2 1402.5h6.6M471.2 1389h6.6M469.2 1405.4h6.6M471.7 1411.1h6.6M512.7 1389.7h6.6M510.7 1408.9h6.6M513.7 1410.4h6.6M551.7 1384.7h6.6M554.7 1386.2h6.6M552.7 1397.5h6.6M594.1 1341.3h6.6M594.1 1363.4h6.6M594.1 1406.8h6.6"/>
<g font-size="16" class="it" text-anchor="end">
<text transform="translate(144,1482.5) rotate(-56)">Trav15-2/dv6-2</text>
<text transform="translate(184.5,1482.5) rotate(-56)">Trav13-4/dv7</text>
<text transform="translate(226,1482.5) rotate(-56)">Trav17</text>
<text transform="translate(267.3,1482.5) rotate(-56)">Trdv2-2</text>
<text transform="translate(308.2,1482.5) rotate(-56)">Trdd1</text>
<text transform="translate(349.6,1482.5) rotate(-56)">Trdd2</text>
<text transform="translate(390.5,1482.5) rotate(-56)">Trdj1</text>
<text transform="translate(431.8,1482.5) rotate(-56)">Trdj2</text>
<text transform="translate(473.3,1482.5) rotate(-56)">Eδ</text>
<text transform="translate(514.6,1482.5) rotate(-56)">Trdc</text>
<text transform="translate(555.5,1482.5) rotate(-56)">Trdv5</text>
<text transform="translate(597,1482.5) rotate(-56)">TEA</text>
</g>
</svg>
</body></html>
